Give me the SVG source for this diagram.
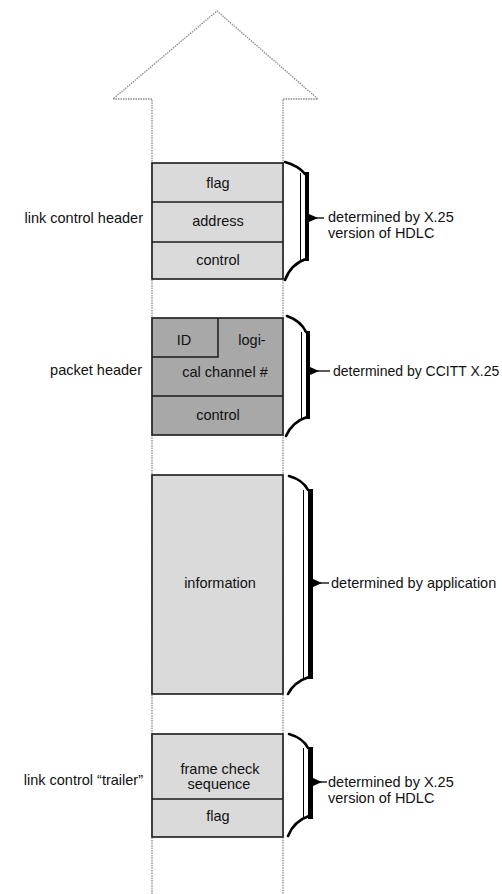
<svg xmlns="http://www.w3.org/2000/svg" width="502" height="894" viewBox="0 0 502 894">
<style>
text{font-family:"Liberation Sans",Arial,sans-serif;font-size:14.5px;fill:#111}
.c{text-anchor:middle}
.r{text-anchor:end}
.shaft{fill:none;stroke:#8a8a8a;stroke-width:1.3;stroke-dasharray:1.5 1}
.light{fill:#dadada;stroke:#1a1a1a;stroke-width:1.6}
.dark{fill:#a8a8a8;stroke:#1a1a1a;stroke-width:1.6}
.div{stroke:#1a1a1a;stroke-width:1.5}
.curl{fill:none;stroke:#000;stroke-width:2.6;stroke-linecap:round}
.thin{stroke:#000;stroke-width:1}
.thick{fill:#000}
.ln{stroke:#000;stroke-width:1.3}
</style>
<rect width="502" height="894" fill="#fff"/>
<g id="big-arrow">
<path class="shaft" d="M152,894 L152,99 L113,99 L217,11 L318,99 L283,99 L283,894"/>
</g>
<g id="link-control-header">
<rect class="light" x="152" y="163" width="131" height="116"/>
<line class="div" x1="152" y1="202" x2="283" y2="202"/>
<line class="div" x1="152" y1="242" x2="283" y2="242"/>
<text class="c" x="218" y="188">flag</text>
<text class="c" x="218" y="226">address</text>
<text class="c" x="218" y="265">control</text>
<text class="r" x="143" y="223">link control header</text>
</g>
<g id="packet-header">
<rect class="dark" x="152" y="318" width="131" height="117"/>
<polyline fill="none" class="div" points="152,357 218,357 218,318"/>
<line class="div" x1="152" y1="396" x2="283" y2="396"/>
<text class="c" x="184" y="345">ID</text>
<text class="c" x="252" y="345">logi-</text>
<text class="c" x="225" y="377">cal channel #</text>
<text class="c" x="218" y="420">control</text>
<text class="r" x="142" y="375">packet header</text>
</g>
<g id="information">
<rect class="light" x="152" y="475" width="131" height="219"/>
<text class="c" x="220" y="588">information</text>
</g>
<g id="link-control-trailer">
<rect class="light" x="152" y="734" width="131" height="103"/>
<line class="div" x1="152" y1="799" x2="283" y2="799"/>
<text class="c" x="220" y="774">frame check</text>
<text class="c" x="219" y="789">sequence</text>
<text class="c" x="218" y="821">flag</text>
<text class="r" x="143" y="785">link control “trailer”</text>
</g>
<g id="connectors">
<path class="curl" d="M285,162 Q299,166 305,174"/>
<line class="thin" x1="300.5" y1="173" x2="300.5" y2="260"/>
<rect class="thick" x="305" y="172" width="4" height="89"/>
<path class="curl" d="M306,259 Q291,264 285,280"/>
<polygon class="thick" points="309,214 318,218 309,222"/>
<line class="ln" x1="316" y1="218" x2="324" y2="218"/>
<path class="curl" d="M287,316 Q301,321 306,332"/>
<line class="thin" x1="301.5" y1="332" x2="301.5" y2="418"/>
<rect class="thick" x="306" y="331" width="4" height="88"/>
<path class="curl" d="M307,417 Q292,422 286,436"/>
<polygon class="thick" points="310,367 319,371 310,375"/>
<line class="ln" x1="317" y1="371" x2="330" y2="371"/>
<path class="curl" d="M289,476 Q303,480 308,490"/>
<line class="thin" x1="303.5" y1="490" x2="303.5" y2="678"/>
<rect class="thick" x="308" y="489" width="5" height="190"/>
<path class="curl" d="M309,677 Q294,682 288,694"/>
<polygon class="thick" points="313,579 322,583 313,587"/>
<line class="ln" x1="320" y1="583" x2="329" y2="583"/>
<path class="curl" d="M289,734 Q303,738 308,748"/>
<line class="thin" x1="303.5" y1="748" x2="303.5" y2="818"/>
<rect class="thick" x="308" y="747" width="5" height="72"/>
<path class="curl" d="M309,816 Q294,821 288,836"/>
<polygon class="thick" points="313,778 322,782 313,786"/>
<line class="ln" x1="320" y1="782" x2="327" y2="782"/>
</g>
<g id="labels">
<text x="328" y="222">determined by X.25</text>
<text x="328" y="238">version of HDLC</text>
<text x="333" y="376" style="font-size:14px">determined by CCITT X.25</text>
<text x="331" y="588">determined by application</text>
<text x="328" y="787">determined by X.25</text>
<text x="328" y="803">version of HDLC</text>
</g>
</svg>
